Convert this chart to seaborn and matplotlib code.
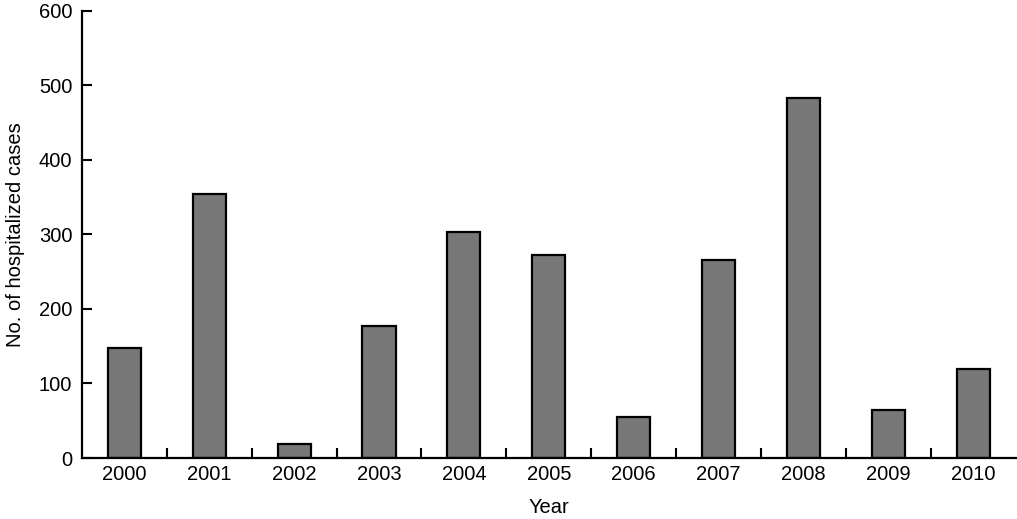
import matplotlib
matplotlib.use("Agg")
import matplotlib.pyplot as plt
import seaborn as sns
import pandas as pd

years = ["2000", "2001", "2002", "2003", "2004", "2005", "2006", "2007", "2008", "2009", "2010"]
cases = [147, 354, 19, 177, 303, 272, 55, 266, 483, 65, 120]
yticks = [0, 100, 200, 300, 400, 500, 600]

sns.set_theme(style="ticks")
plt.rcParams["font.family"] = ["Liberation Sans", "DejaVu Sans"]

df = pd.DataFrame({"Year": years, "Cases": cases})

fig = plt.figure(figsize=(10.17, 5.19), dpi=100)
ax = fig.add_axes([0.0806, 0.1175, 0.918, 0.8615])
sns.barplot(data=df, x="Year", y="Cases", color="#777777", width=0.39,
            edgecolor="black", linewidth=1.6, saturation=1, ax=ax)
for p in ax.patches:
    p.set_facecolor("#777777")

ax.set_xlim(-0.5, len(years) - 0.5)
ax.set_ylim(0, 600)
ax.set_yticks(yticks)
ax.set_yticklabels([str(t) for t in yticks])
ax.tick_params(axis="y", direction="in", length=7, width=1.5, labelsize=14.5, pad=7, colors="black")
ax.tick_params(axis="x", which="major", length=0, labelsize=14.5, pad=5, colors="black")
ax.set_xticks([i + 0.5 for i in range(len(years) - 1)], minor=True)
ax.tick_params(axis="x", which="minor", direction="in", length=7, width=1.5, colors="black")
for s in ["top", "right"]:
    ax.spines[s].set_visible(False)
for s in ["left", "bottom"]:
    ax.spines[s].set_linewidth(1.6)
    ax.spines[s].set_color("black")
ax.set_xlabel("Year", fontsize=14.5, labelpad=10, color="black")
ax.set_ylabel("No. of hospitalized cases", fontsize=14.5, labelpad=10, color="black")

fig.savefig("out.png", dpi=100)
